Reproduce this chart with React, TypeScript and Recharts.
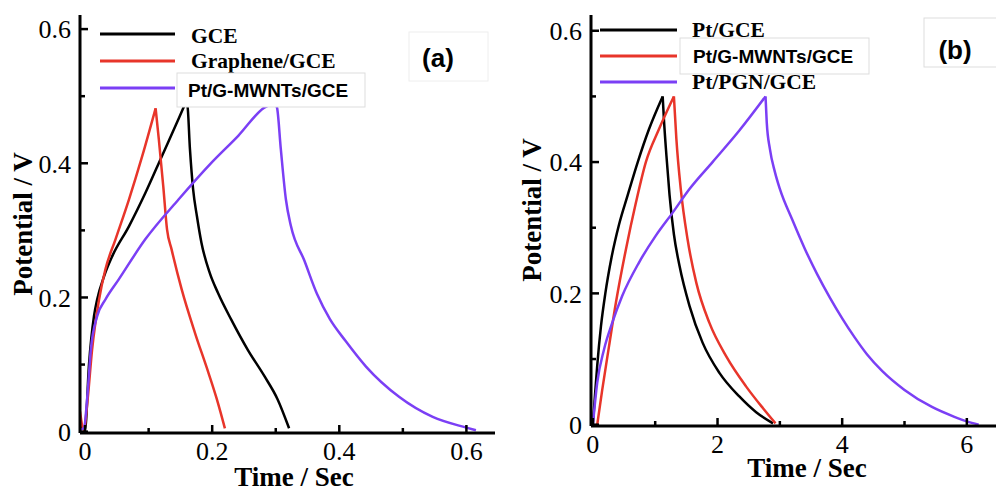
import React from 'react';
import { LineChart, Line, XAxis, YAxis, Label } from 'recharts';

// ---- panel (a) data ----
const gceT = [-0.008, -0.004, 0.0, 0.006, 0.014, 0.019, 0.03, 0.043, 0.069, 0.095, 0.121, 0.147, 0.158, 0.161, 0.165, 0.17, 0.176, 0.183, 0.196, 0.209, 0.23, 0.256, 0.282, 0.303, 0.321];
const gceV = [0.012, 0.006, 0.003, 0.098, 0.172, 0.197, 0.232, 0.262, 0.306, 0.356, 0.411, 0.466, 0.49, 0.486, 0.421, 0.361, 0.321, 0.282, 0.237, 0.207, 0.167, 0.122, 0.083, 0.048, 0.005];

const grT = [-0.008, -0.002, 0.004, 0.011, 0.022, 0.032, 0.048, 0.069, 0.09, 0.111, 0.116, 0.123, 0.129, 0.136, 0.152, 0.173, 0.194, 0.209, 0.22];
const grV = [0.03, 0.003, 0.048, 0.122, 0.197, 0.242, 0.287, 0.346, 0.411, 0.482, 0.436, 0.366, 0.301, 0.272, 0.212, 0.147, 0.088, 0.043, 0.005];

const pgmT = [-0.008, -0.002, 0.004, 0.009, 0.019, 0.032, 0.053, 0.095, 0.147, 0.199, 0.241, 0.282, 0.298, 0.302, 0.308, 0.316, 0.324, 0.345, 0.365, 0.385, 0.41, 0.442, 0.494, 0.547, 0.6, 0.615];
const pgmV = [0.003, 0.005, 0.058, 0.122, 0.172, 0.197, 0.227, 0.287, 0.346, 0.401, 0.441, 0.483, 0.49, 0.483, 0.421, 0.346, 0.306, 0.255, 0.205, 0.168, 0.135, 0.097, 0.052, 0.022, 0.006, 0.002];

// ---- panel (b) data ----
const ptT = [0.0, 0.03, 0.07, 0.13, 0.2, 0.3, 0.42, 0.56, 0.72, 0.9, 1.12, 1.14, 1.18, 1.23, 1.3, 1.39, 1.55, 1.76, 2.03, 2.35, 2.62, 2.89];
const ptV = [0.0, 0.04, 0.09, 0.15, 0.2, 0.255, 0.305, 0.35, 0.4, 0.45, 0.5, 0.465, 0.41, 0.35, 0.29, 0.242, 0.181, 0.125, 0.079, 0.043, 0.019, 0.002];

const ptgT = [0.07, 0.15, 0.26, 0.37, 0.53, 0.69, 0.85, 1.06, 1.3, 1.34, 1.41, 1.52, 1.66, 1.87, 2.14, 2.46, 2.73, 2.93];
const ptgV = [0.0, 0.053, 0.12, 0.186, 0.267, 0.338, 0.4, 0.45, 0.5, 0.435, 0.359, 0.282, 0.216, 0.155, 0.104, 0.058, 0.025, 0.002];

const pgnT = [0.0, 0.07, 0.18, 0.31, 0.47, 0.74, 1.01, 1.28, 1.55, 1.92, 2.35, 2.77, 2.79, 2.84, 2.92, 3.0, 3.2, 3.4, 3.6, 3.8, 4.0, 4.2, 4.4, 4.64, 5.0, 5.44, 5.8, 6.0, 6.19];
const pgnV = [0.0, 0.064, 0.115, 0.155, 0.196, 0.247, 0.288, 0.323, 0.359, 0.4, 0.448, 0.5, 0.46, 0.42, 0.385, 0.359, 0.312, 0.268, 0.229, 0.194, 0.162, 0.133, 0.107, 0.082, 0.053, 0.027, 0.012, 0.005, 0.0];

// ---- ticks ----
const aTicksX = [0, 0.1, 0.2, 0.3, 0.4, 0.5, 0.6];
const aMajorX = [0, 0.2, 0.4, 0.6];
const bTicksX = [0, 1, 2, 3, 4, 5, 6];
const bMajorX = [0, 2, 4, 6];
const ticksY = [0, 0.1, 0.2, 0.3, 0.4, 0.5, 0.6];
const majorY = [0, 0.2, 0.4, 0.6];

const zip = (t: number[], v: number[]) => t.map((x, i) => ({ t: x, v: v[i] }));
// charge and discharge branches, so each one can be smoothed and the peak stays sharp
const splitAtPeak = (t: number[], v: number[]) => {
  const k = v.indexOf(Math.max(...v));
  return [zip(t.slice(0, k + 1), v.slice(0, k + 1)), zip(t.slice(k), v.slice(k))];
};

const TM = 9;
const SERIF = '"Liberation Serif", "Times New Roman", serif';
const SANS = '"Liberation Sans", Arial, sans-serif';

const tickTxt = { fontFamily: SERIF, fontSize: 26, fill: '#000' };
const titleTxt = { fontFamily: SERIF, fontWeight: 'bold' as const, fontSize: 27, fill: '#000' };

const makeTick = (side: string, majors: number[], fmt: (v: number) => string) => (p: any) => {
  const { x, y, payload } = p;
  const v = payload.value;
  const major = majors.some((m) => Math.abs(m - v) < 1e-9);
  const len = major ? 8 : 5;
  if (side === 'bottom') {
    const ay = y - TM;
    return (
      <g>
        <line x1={x} x2={x} y1={ay} y2={ay - len} stroke="#000" strokeWidth={2.5} />
        {major && <text x={x} y={y} dy="0.71em" textAnchor="middle" style={tickTxt}>{fmt(v)}</text>}
      </g>
    );
  }
  if (side === 'top') {
    return <line x1={x} x2={x} y1={y} y2={y + len} stroke="#000" strokeWidth={2.5} />;
  }
  if (side === 'left') {
    const ax = x + TM;
    return (
      <g>
        <line x1={ax} x2={ax + len} y1={y} y2={y} stroke="#000" strokeWidth={2.5} />
        {major && <text x={x} y={y} dy="0.355em" textAnchor="end" style={tickTxt}>{fmt(v)}</text>}
      </g>
    );
  }
  return <line x1={x} x2={x - len} y1={y} y2={y} stroke="#000" strokeWidth={2.5} />;
};

const fmtA = (v: number) => (v === 0 ? '0' : v.toFixed(1));
const fmtB = (v: number) => String(v);

const axisLine = { stroke: '#000', strokeWidth: 3 };

type Series = { name: string; t: number[]; v: number[]; color: string };

const Panel = ({ series, xDomain, yDomain, xTicks, xMajor, fmtX, yAxisW, xAxisH, right, xLab, yLab }: any) => (
  <LineChart width={500} height={491} margin={{ top: 15, right, bottom: 0, left: 0 }}>
    <XAxis xAxisId="b" type="number" dataKey="t" domain={xDomain} ticks={xTicks} interval={0} allowDataOverflow
      height={xAxisH} axisLine={axisLine} tickLine={false} tickSize={0} tickMargin={TM}
      tick={makeTick('bottom', xMajor, fmtX)}>
      <Label content={() => (
        <text x={xLab[0]} y={xLab[1]} textAnchor="middle" style={titleTxt}>Time / Sec</text>
      )} />
    </XAxis>
    <XAxis xAxisId="top" orientation="top" type="number" dataKey="t" domain={xDomain} ticks={xTicks} interval={0} allowDataOverflow
      height={0} axisLine={axisLine} tickLine={false} tickSize={0} tickMargin={0}
      tick={makeTick('top', xMajor, fmtX)} />
    <YAxis yAxisId="l" type="number" domain={yDomain} ticks={ticksY} interval={0} allowDataOverflow
      width={yAxisW} axisLine={axisLine} tickLine={false} tickSize={0} tickMargin={TM}
      tick={makeTick('left', majorY, fmtA)}>
      <Label content={() => (
        <text transform={`translate(${yLab[0]},${yLab[1]}) rotate(-90)`} textAnchor="middle" dominantBaseline="central"
          style={titleTxt}>Potential / V</text>
      )} />
    </YAxis>
    <YAxis yAxisId="r" orientation="right" type="number" domain={yDomain} ticks={ticksY} interval={0} allowDataOverflow
      width={0} axisLine={axisLine} tickLine={false} tickSize={0} tickMargin={0}
      tick={makeTick('right', majorY, fmtA)} />
    {series.flatMap((s: Series) =>
      splitAtPeak(s.t, s.v).map((part, i) => (
        <Line key={s.name + i} xAxisId="b" yAxisId="l" data={part} dataKey="v" name={s.name} type="monotone"
          stroke={s.color} strokeWidth={2.5} dot={false} isAnimationActive={false} />
      ))
    )}
  </LineChart>
);

const BLACK = '#000000';
const RED = '#e8352a';
const PURPLE = '#7b3ff5';

const seriesA: Series[] = [
  { name: 'GCE', t: gceT, v: gceV, color: BLACK },
  { name: 'Graphene/GCE', t: grT, v: grV, color: RED },
  { name: 'Pt/G-MWNTs/GCE', t: pgmT, v: pgmV, color: PURPLE },
];
const seriesB: Series[] = [
  { name: 'Pt/GCE', t: ptT, v: ptV, color: BLACK },
  { name: 'Pt/G-MWNTs/GCE', t: ptgT, v: ptgV, color: RED },
  { name: 'Pt/PGN/GCE', t: pgnT, v: pgnV, color: PURPLE },
];

const legSerif = { fontFamily: SERIF, fontWeight: 'bold' as const, fontSize: 21.5, fill: '#000' };
const legSans = { fontFamily: SANS, fontWeight: 'bold' as const, fontSize: 19, fill: '#000' };
const tagTxt = { fontFamily: SANS, fontWeight: 'bold' as const, fontSize: 26, fill: '#000' };

export default function App() {
  return (
    <div style={{ position: 'absolute', left: 0, top: 0, width: 996, height: 491, overflow: 'hidden', background: '#fff' }}>
      <div style={{ position: 'absolute', left: 0, top: 0 }}>
        <Panel series={seriesA} xDomain={[-0.008, 0.645]} yDomain={[-0.002, 0.621]} xTicks={aTicksX} xMajor={aMajorX}
          fmtX={fmtA} yAxisW={80} xAxisH={58} right={5} xLab={[294, 486]} yLab={[23, 224]} />
      </div>
      <div style={{ position: 'absolute', left: 500, top: 0 }}>
        <Panel series={seriesB} xDomain={[-0.03, 6.5]} yDomain={[-0.002, 0.624]} xTicks={bTicksX} xMajor={bMajorX}
          fmtX={fmtB} yAxisW={91} xAxisH={65} right={2} xLab={[307, 477]} yLab={[32, 210]} />
      </div>
      <svg width={996} height={491} style={{ position: 'absolute', left: 0, top: 0, pointerEvents: 'none' }}>
        {/* legend (a) */}
        <line x1={100} x2={175} y1={34} y2={34} stroke={BLACK} strokeWidth={3} />
        <text x={191} y={43} style={legSerif}>GCE</text>
        <line x1={100} x2={175} y1={61} y2={61} stroke={RED} strokeWidth={3} />
        <text x={191} y={68} style={legSerif}>Graphene/GCE</text>
        <rect x={177} y={73} width={188} height={34} fill="#fff" stroke="#ddd" strokeWidth={1} />
        <line x1={100} x2={175} y1={88} y2={88} stroke={PURPLE} strokeWidth={3} />
        <text x={188} y={97} style={legSans}>Pt/G-MWNTs/GCE</text>
        <rect x={409} y={32} width={79} height={49} fill="#fff" stroke="#eee" strokeWidth={1} />
        <text x={438} y={67} textAnchor="middle" style={tagTxt}>(a)</text>

        {/* legend (b) */}
        <line x1={600} x2={677} y1={30} y2={30} stroke={BLACK} strokeWidth={3} />
        <text x={692} y={37} style={legSerif}>Pt/GCE</text>
        <rect x={680} y={38} width={189} height={36} fill="#fff" stroke="#ddd" strokeWidth={1} />
        <line x1={600} x2={677} y1={56} y2={56} stroke={RED} strokeWidth={3} />
        <text x={693} y={63} style={legSans}>Pt/G-MWNTs/GCE</text>
        <line x1={600} x2={677} y1={82} y2={82} stroke={PURPLE} strokeWidth={3} />
        <text x={692} y={89} style={legSerif}>Pt/PGN/GCE</text>
        <rect x={924} y={18} width={80} height={49} fill="#fff" stroke="#ddd" strokeWidth={1} />
        <text x={955} y={59} textAnchor="middle" style={tagTxt}>(b)</text>
      </svg>
    </div>
  );
}
